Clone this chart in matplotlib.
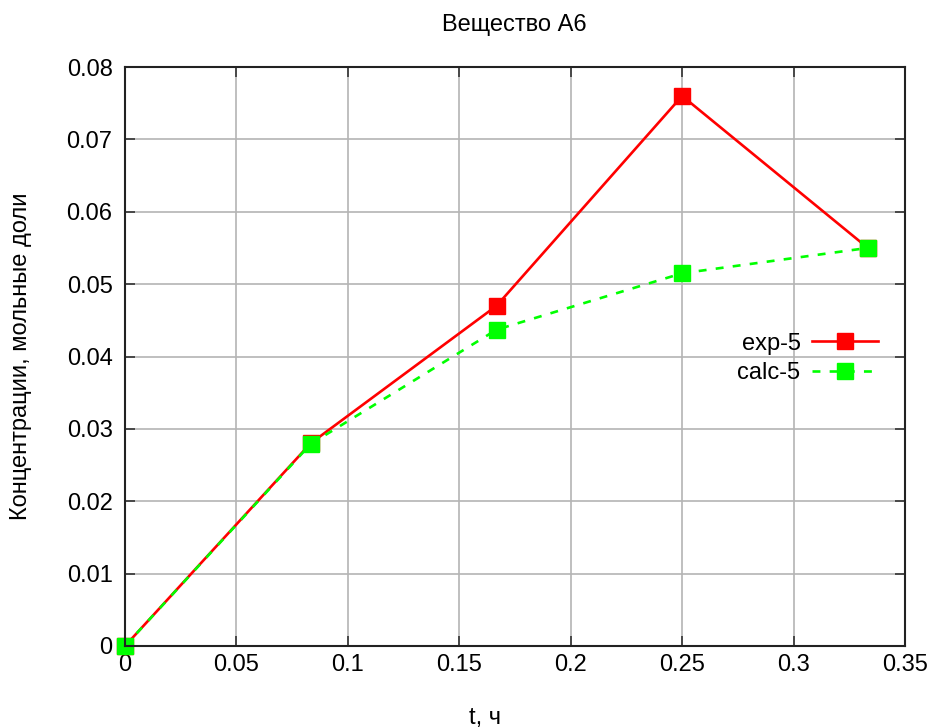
import matplotlib
matplotlib.use('Agg')
import matplotlib.pyplot as plt

plt.rcParams['font.family'] = ['Liberation Sans', 'DejaVu Sans']

t = [0.0, 0.0833, 0.1667, 0.25, 0.3333]
exp5 = [0.0, 0.028, 0.047, 0.076, 0.055]
calc5 = [0.0, 0.0279, 0.0437, 0.0515, 0.055]

xticks = [0, 0.05, 0.1, 0.15, 0.2, 0.25, 0.3, 0.35]
xtick_labels = ['0', '0.05', '0.1', '0.15', '0.2', '0.25', '0.3', '0.35']
yticks = [0, 0.01, 0.02, 0.03, 0.04, 0.05, 0.06, 0.07, 0.08]
ytick_labels = ['0', '0.01', '0.02', '0.03', '0.04', '0.05', '0.06', '0.07', '0.08']

fs = 17

fig = plt.figure(figsize=(9.3, 7.28), dpi=100)
ax = fig.add_axes([125 / 930, 1 - 646 / 728, 780 / 930, 579 / 728])

ax.plot(t, exp5, color='#ff0000', lw=1.9, marker='s', ms=11,
        mec='#ff0000', mfc='#ff0000', label='exp-5', zorder=3, clip_on=False)
ax.plot(t, calc5, color='#00ff00', lw=1.9, marker='s', ms=11,
        mec='#00ff00', mfc='#00ff00', dashes=(3, 3.5), label='calc-5',
        zorder=4, clip_on=False)

ax.set_xlim(0, 0.35)
ax.set_ylim(0, 0.08)
ax.set_xticks(xticks)
ax.set_xticklabels(xtick_labels)
ax.set_yticks(yticks)
ax.set_yticklabels(ytick_labels)

ax.grid(True, color='#b4b4b4', lw=1.2)
ax.set_axisbelow(True)
ax.tick_params(direction='in', length=7, width=1.2, color='#333333',
               top=True, right=True, labelsize=fs)
ax.tick_params(axis='y', pad=9)
ax.tick_params(axis='x', pad=6)
for s in ax.spines.values():
    s.set_linewidth(1.5)
    s.set_color('#222222')
    s.set_zorder(5)

ax.set_xlabel('t, ч', fontsize=fs)
ax.xaxis.set_label_coords(0.462, -0.105)
ax.set_ylabel('Концентрации, мольные доли', fontsize=fs)
ax.yaxis.set_label_coords(-0.119, 0.5)
fig.text(514 / 930, 1 - 25 / 728, 'Вещество А6', ha='center', va='center',
         fontsize=fs)

leg = ax.legend(loc='center right', bbox_to_anchor=(0.966, 0.497), frameon=False,
                markerfirst=False, fontsize=fs, handlelength=2.8,
                labelspacing=0.3, handletextpad=0.5, borderpad=0,
                borderaxespad=0)
for txt in leg.get_texts():
    txt.set_ha('right')

fig.savefig('out.png', dpi=100)
